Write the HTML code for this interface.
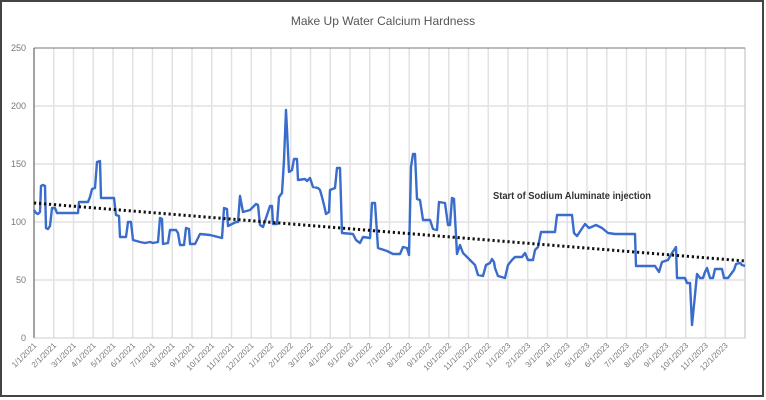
<!DOCTYPE html>
<html><head><meta charset="utf-8"><style>
html,body{margin:0;padding:0;background:#fff;}
svg{display:block;}
text{font-family:"Liberation Sans",sans-serif;}
</style></head><body>
<svg width="766" height="400" viewBox="0 0 766 400" xmlns="http://www.w3.org/2000/svg">
<rect x="1" y="1" width="762" height="395" fill="#fff" stroke="#444" stroke-width="2"/>
<text x="383" y="25" text-anchor="middle" font-size="12" fill="#555">Make Up Water Calcium Hardness</text>
<g id="hgrid" stroke="#e2e2e2" stroke-width="1.5">
<line x1="34" y1="106" x2="745" y2="106"/><line x1="34" y1="164" x2="745" y2="164"/><line x1="34" y1="222" x2="745" y2="222"/><line x1="34" y1="280" x2="745" y2="280"/>
</g>
<g id="vg" stroke="#e2e2e2" stroke-width="1.5"></g>
<rect x="34" y="48" width="711" height="290" fill="none" stroke="#bbb" stroke-width="1"/>
<line x1="34" y1="48" x2="745" y2="48" stroke="#777" stroke-width="1"/>
<line x1="34" y1="48" x2="34" y2="338" stroke="#666" stroke-width="1.2"/>
<line x1="34" y1="338" x2="745" y2="338" stroke="#ccc" stroke-width="1"/>
<g font-size="9" fill="#777" text-anchor="end">
<text x="26" y="51">250</text><text x="26" y="109">200</text><text x="26" y="167">150</text><text x="26" y="225">100</text><text x="26" y="283">50</text><text x="26" y="341">0</text>
</g>
<g id="xl" font-size="8" fill="#777" text-anchor="end"></g>
<polyline fill="none" stroke="#3a6ccc" stroke-width="2.4" stroke-linejoin="round" points="34,210 36,213 38,214 40,212 41,186 43,185 45,186 46,228 48,229 50,226 52,208 55,208 57,213 78,213 79,202 88,202 90,197 92,189 95,188 97,162 100,161 101,198 114,198 116,215 119,216 120,237 126,237 128,222 131,222 133,240 140,242 145,243 150,242 153,243 158,242 160,218 162,219 163,244 168,243 170,230 176,230 178,233 180,245 184,245 186,228 189,229 190,244 195,244 200,234 210,235 222,238 224,208 227,209 228,226 236,222 238,222 240,196 243,212 250,210 256,204 258,205 260,225 263,227 270,206 272,206 273,224 277,224 279,197 282,193 284,160 286,110 287,130 289,172 292,170 294,159 297,159 298,180 305,179 307,181 310,178 313,187 318,188 320,190 322,197 324,205 326,214 329,212 330,190 335,188 337,168 340,168 342,233 353,234 356,240 360,243 363,237 370,238 372,203 375,203 378,248 387,251 393,254 400,254 403,247 407,248 409,255 411,167 413,154 415,154 417,199 420,200 423,220 430,220 433,229 437,230 439,202 445,203 448,225 450,225 452,198 454,199 457,254 460,245 463,253 470,260 475,265 478,275 483,276 486,265 490,263 492,259 494,262 495,268 498,276 505,278 508,265 512,260 515,257 522,257 525,253 528,260 533,260 535,250 538,247 541,232 555,232 557,215 572,215 574,233 577,236 585,224 589,228 596,225 602,228 608,233 615,234 635,234 636,266 655,266 659,272 662,262 668,260 672,253 676,247 677,278 685,278 687,283 690,283 692,325 695,295 697,274 700,278 703,278 705,272 707,268 710,278 713,278 715,269 722,269 724,278 728,278 731,274 734,270 736,264 740,263 742,265 745,266"/>
<line x1="34" y1="203" x2="745" y2="261" stroke="#111" stroke-width="3" stroke-dasharray="2.2 2.8"/>
<text x="493" y="199" font-size="10" font-weight="bold" fill="#333" textLength="158" lengthAdjust="spacingAndGlyphs">Start of Sodium Aluminate injection</text>
<script>
var vg=document.getElementById('vg'),xl=document.getElementById('xl'),ns='http://www.w3.org/2000/svg';
for(var k=1;k<36;k++){var x=34+k*19.75;var l=document.createElementNS(ns,'line');l.setAttribute('x1',x);l.setAttribute('x2',x);l.setAttribute('y1',48);l.setAttribute('y2',338);vg.appendChild(l);}
for(var k=0;k<36;k++){var x=34+k*19.75;var m=(k%12)+1,y=2021+Math.floor(k/12);var t=document.createElementNS(ns,'text');t.setAttribute('transform','translate('+(x+3)+',346) rotate(-45)');t.textContent=m+'/1/'+y;xl.appendChild(t);}
</script>
</svg>
</body></html>
